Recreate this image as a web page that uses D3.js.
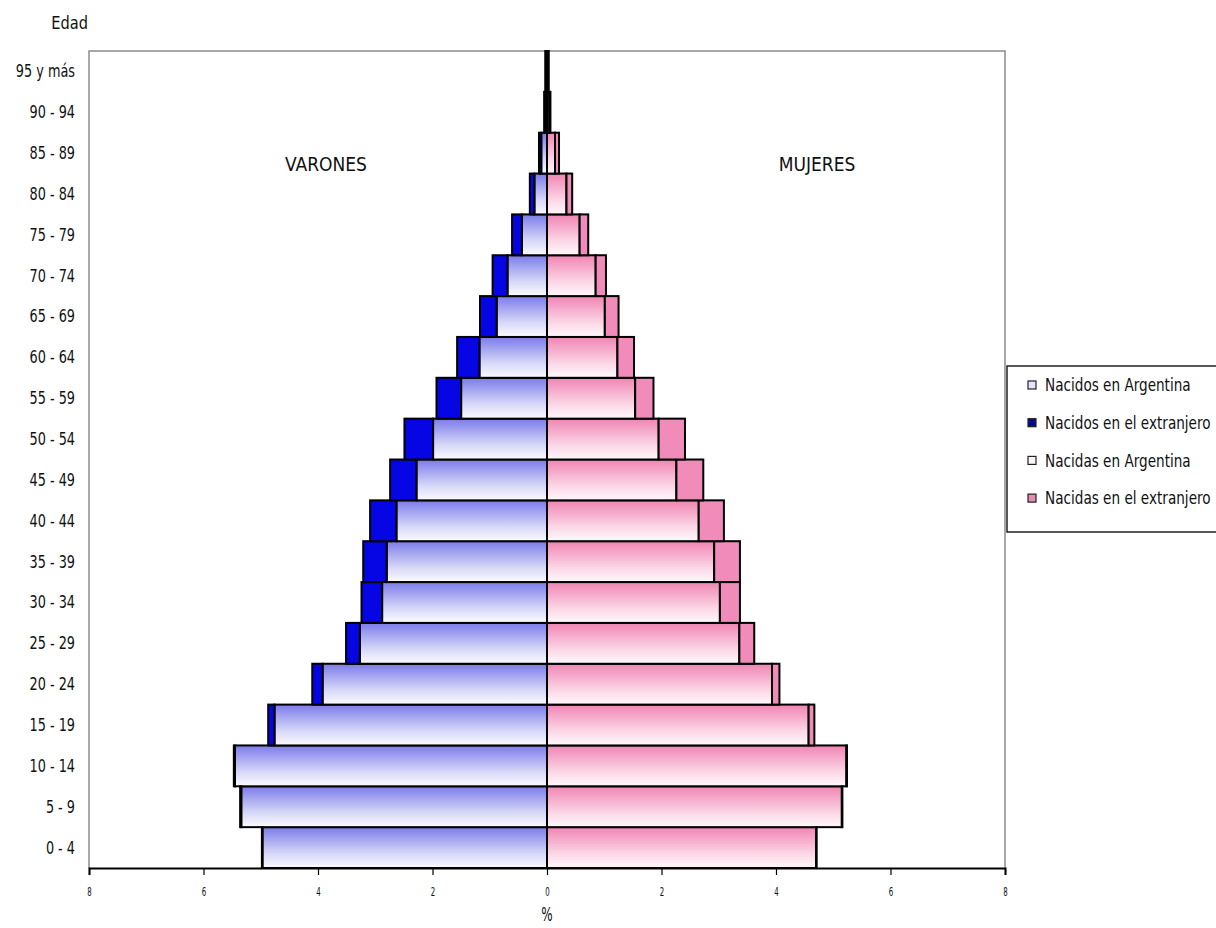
<!DOCTYPE html>
<html>
<head>
<meta charset="utf-8">
<script src="https://cdn.jsdelivr.net/npm/d3@7"></script>
<style>
    body { margin: 0; background: #fff; }
    #chart { width: 1216px; height: 928px; }
    text { font-family: "Liberation Sans Narrow", "DejaVu Sans Condensed", sans-serif; fill: #111; }
</style>
</head>
<body>
<div id="chart"></div>
<script>

// age groups, bottom to top
let ages = ["0 - 4", "5 - 9", "10 - 14", "15 - 19", "20 - 24", "25 - 29", "30 - 34", "35 - 39",
    "40 - 44", "45 - 49", "50 - 54", "55 - 59", "60 - 64", "65 - 69", "70 - 74", "75 - 79",
    "80 - 84", "85 - 89", "90 - 94", "95 y más"];

// % of total population
let menArg   = [4.97, 5.34, 5.45, 4.76, 3.92, 3.27, 2.88, 2.80, 2.63, 2.28, 1.99, 1.50, 1.18, 0.88, 0.69, 0.44, 0.22, 0.10, 0.03, 0.02];
let menExt   = [0.01, 0.02, 0.02, 0.11, 0.18, 0.24, 0.36, 0.41, 0.46, 0.46, 0.50, 0.43, 0.39, 0.29, 0.26, 0.17, 0.08, 0.04, 0.02, 0.01];
let womenArg = [4.70, 5.15, 5.23, 4.57, 3.93, 3.36, 3.02, 2.92, 2.65, 2.26, 1.95, 1.54, 1.23, 1.01, 0.85, 0.57, 0.34, 0.14, 0.04, 0.02];
let womenExt = [0.01, 0.01, 0.01, 0.10, 0.13, 0.26, 0.35, 0.45, 0.44, 0.47, 0.46, 0.32, 0.29, 0.24, 0.18, 0.15, 0.10, 0.07, 0.02, 0.01];

let xTicks = [-8, -6, -4, -2, 0, 2, 4, 6, 8];
let legendLabels = ["Nacidos en Argentina", "Nacidos en el extranjero", "Nacidas en Argentina", "Nacidas en el extranjero"];


class Pyramid {

    constructor(parentElement) {
        this.parentElement = parentElement;
        this.initVis();
    }

    initVis() {
        let vis = this;

        vis.left = 89; vis.right = 1005;
        vis.top = 51; vis.bottom = 868;

        vis.svg = d3.select("#" + vis.parentElement).append("svg")
            .attr("width", 1216)
            .attr("height", 928);

        // gradients for the native-born bars
        let defs = vis.svg.append("defs");
        let grads = {
            gradMen: ["#7c7ce9", "#9090ee", "#d8d8f8", "#fbfbff"],
            gradWomen: ["#ef86b2", "#f397bf", "#fbd7e6", "#fff8fb"]
        };
        Object.keys(grads).forEach(function (id) {
            let g = defs.append("linearGradient").attr("id", id)
                .attr("x1", 0).attr("y1", 0).attr("x2", 0).attr("y2", 1);
            [0, 0.15, 0.65, 1].forEach((o, i) => {
                g.append("stop").attr("offset", o).attr("stop-color", grads[id][i]);
            });
        });

        // scales
        vis.x = d3.scaleLinear().domain([-8, 8]).range([vis.left, vis.right]);
        vis.y = d3.scaleBand().domain(ages).range([vis.bottom, vis.top]).padding(0);

        // plot frame (top, left, right)
        vis.svg.append("path")
            .attr("d", `M${vis.left},${vis.bottom} V${vis.top} H${vis.right} V${vis.bottom}`)
            .attr("fill", "none")
            .attr("stroke", "#8c8c8c")
            .attr("stroke-width", 1.5);

        vis.updateVis();
    }

    updateVis() {
        let vis = this;

        let rows = ages.map((a, i) => ({
            age: a, mA: menArg[i], mE: menExt[i], wA: womenArg[i], wE: womenExt[i]
        }));

        let bars = vis.svg.append("g").attr("class", "bars");
        let bh = vis.y.bandwidth();

        let segs = [
            {x0: d => -d.mA, x1: d => 0, fill: "url(#gradMen)"},
            {x0: d => -(d.mA + d.mE), x1: d => -d.mA, fill: "#0606e4"},
            {x0: d => 0, x1: d => d.wA, fill: "url(#gradWomen)"},
            {x0: d => d.wA, x1: d => d.wA + d.wE, fill: "#f18bba"}
        ];

        segs.forEach(function (s) {
            bars.selectAll(null)
                .data(rows)
                .enter().append("rect")
                .attr("x", d => vis.x(s.x0(d)))
                .attr("width", d => vis.x(s.x1(d)) - vis.x(s.x0(d)))
                .attr("y", d => vis.y(d.age))
                .attr("height", bh)
                .attr("fill", s.fill)
                .attr("stroke", "#000")
                .attr("stroke-width", 2);
        });

        // x axis
        vis.xAxis = d3.axisBottom(vis.x)
            .tickValues(xTicks)
            .tickFormat(d => Math.abs(d))
            .tickSizeInner(7)
            .tickSizeOuter(7)
            .tickPadding(12);

        let xg = vis.svg.append("g")
            .attr("class", "x-axis axis")
            .attr("transform", `translate(0,${vis.bottom})`)
            .call(vis.xAxis);
        xg.select(".domain").attr("stroke", "#000").attr("stroke-width", 2);
        xg.selectAll(".tick line").attr("stroke", "#000").attr("stroke-width", 1.2);
        xg.selectAll(".tick text")
            .attr("font-size", 13)
            .attr("font-family", null)
            .attr("fill", "#111")
            .attr("transform", "scale(0.6,1)");

        // y labels
        vis.svg.append("g").attr("class", "y-labels")
            .selectAll("text")
            .data(ages)
            .enter().append("text")
            .attr("transform", d => `translate(75,${vis.y(d) + bh / 2}) scale(0.84,1)`)
            .attr("dy", "0.35em")
            .attr("text-anchor", "end")
            .attr("font-size", 17)
            .text(d => d);

        vis.svg.append("text")
            .attr("transform", "translate(88,23) scale(0.9,1)")
            .attr("dy", "0.35em")
            .attr("text-anchor", "end")
            .attr("font-size", 18)
            .text("Edad");

        vis.svg.append("text")
            .attr("transform", `translate(${vis.x(0)},914) scale(0.7,1)`)
            .attr("dy", "0.35em")
            .attr("text-anchor", "middle")
            .attr("font-size", 19)
            .text("%");

        // side titles
        vis.svg.append("text")
            .attr("x", 326).attr("y", 164).attr("dy", "0.35em")
            .attr("text-anchor", "middle").attr("font-size", 19)
            .text("VARONES");
        vis.svg.append("text")
            .attr("x", 817).attr("y", 164).attr("dy", "0.35em")
            .attr("text-anchor", "middle").attr("font-size", 19)
            .text("MUJERES");

        // legend
        let lg = vis.svg.append("g").attr("class", "legend");
        lg.append("rect")
            .attr("x", 1007).attr("y", 366)
            .attr("width", 230).attr("height", 166)
            .attr("fill", "#fff")
            .attr("stroke", "#222").attr("stroke-width", 1.5);

        let swatch = ["#e4e4fb", "#0a0a8c", "#fbf4f7", "#e78ab0"];
        let items = lg.selectAll(".item")
            .data(legendLabels)
            .enter().append("g")
            .attr("class", "item")
            .attr("transform", (d, i) => `translate(1028,${385 + i * 37.7})`);

        items.append("rect")
            .attr("x", 0).attr("y", -4)
            .attr("width", 8).attr("height", 8)
            .attr("fill", (d, i) => swatch[i])
            .attr("stroke", "#222").attr("stroke-width", 1.2);

        items.append("text")
            .attr("transform", "translate(17,0) scale(0.84,1)")
            .attr("dy", "0.35em")
            .attr("font-size", 18)
            .text(d => d);
    }
}

new Pyramid("chart");
</script>
</body>
</html>
